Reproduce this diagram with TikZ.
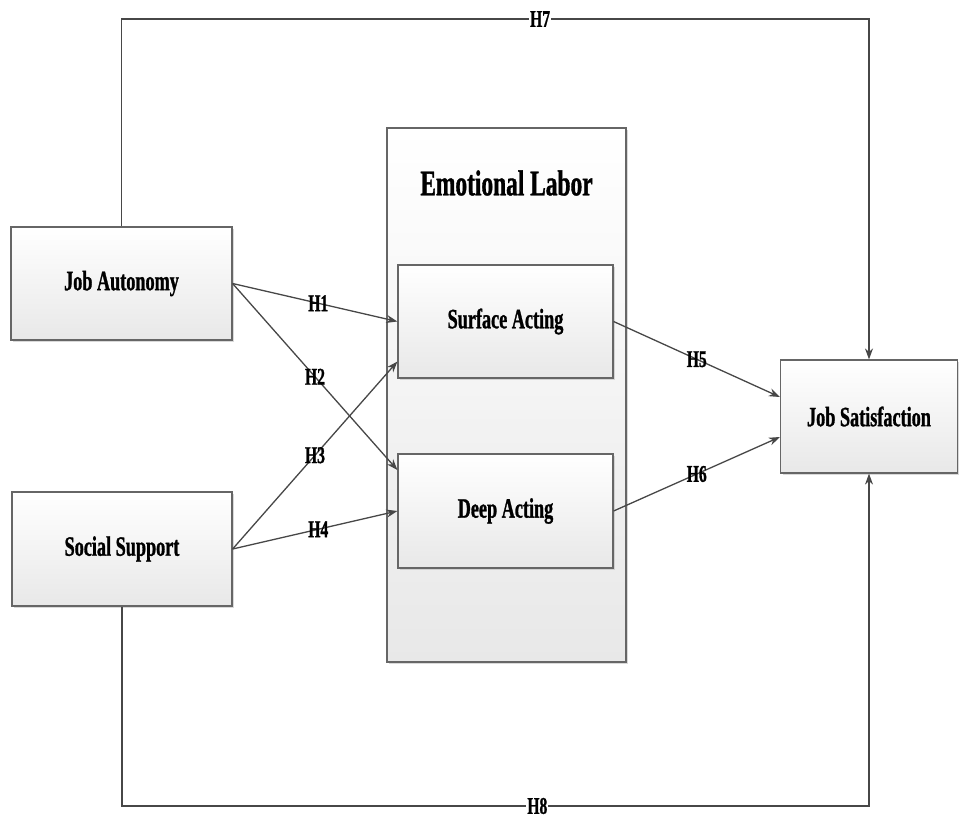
\documentclass[tikz,border=0pt]{standalone}
\usepackage{fontspec}
\setmainfont{Liberation Serif}[FakeStretch=0.65, BoldFeatures={FakeBold=1}]
\usepackage{tikz}
\usetikzlibrary{arrows.meta, shadows, calc}

\begin{document}
\begin{tikzpicture}[x=1pt, y=-1pt,
    construct/.style={rectangle, draw=black!60, line width=1.2pt, top color=white, bottom color=black!9, drop shadow={shadow xshift=2pt, shadow yshift=-2pt, fill=black!25, opacity=0.6}, font=\fontsize{28}{30}\selectfont\bfseries, inner sep=0pt},
    link/.style={draw=black!72, line width=1.3pt, -{Stealth[length=11pt, width=8pt]}},
    hyp/.style={font=\fontsize{24}{26}\selectfont\bfseries, inner sep=0pt},
    hypcut/.style={hyp, fill=white, inner xsep=1pt}]
\useasboundingbox (0,0) rectangle (959,820);
% constructs
\node[construct, minimum width=239pt, minimum height=534pt] (el) at (506.5,395) {};
\node[font=\fontsize{36}{38}\selectfont\bfseries] (eltitle) at (506.5,183) {Emotional Labor};
\node[construct, minimum width=221pt, minimum height=113pt] (ja) at (121.5,283.5) {Job Autonomy};
\node[construct, minimum width=220pt, minimum height=114pt] (ss) at (122,549) {Social Support};
\node[construct, minimum width=215pt, minimum height=113pt] (sa) at (505.5,321.5) {Surface Acting};
\node[construct, minimum width=215pt, minimum height=114pt] (da) at (505.5,511) {Deep Acting};
\node[construct, minimum width=177pt, minimum height=113pt] (js) at (869,416.5) {Job Satisfaction};
% hypotheses
\draw[link] (ja.east) -- node[hyp, pos=0.52] {H1} (sa.west);
\draw[link] (ja.east) -- node[hyp, pos=0.5] {H2} ([yshift=41pt]da.west);
\draw[link] (ss.east) -- node[hyp, pos=0.5] {H3} ([yshift=-40pt]sa.west);
\draw[link] (ss.east) -- node[hyp, pos=0.52] {H4} (da.west);
\draw[link] (sa.east) -- node[hyp, pos=0.5] {H5} ([yshift=19.5pt]js.west);
\draw[link] (da.east) -- node[hyp, pos=0.5] {H6} ([yshift=-20.5pt]js.west);
\coordinate (toptr) at (js.north |- 0,19);
\coordinate (botbr) at (js.south |- 0,806);
\draw[link] (ja.north) |- node[hypcut, pos=0.78] {H7} (toptr) -- (js.north);
\draw[link] (ss.south) |- node[hypcut, pos=0.778] {H8} (botbr) -- (js.south);
\end{tikzpicture}
\end{document}
